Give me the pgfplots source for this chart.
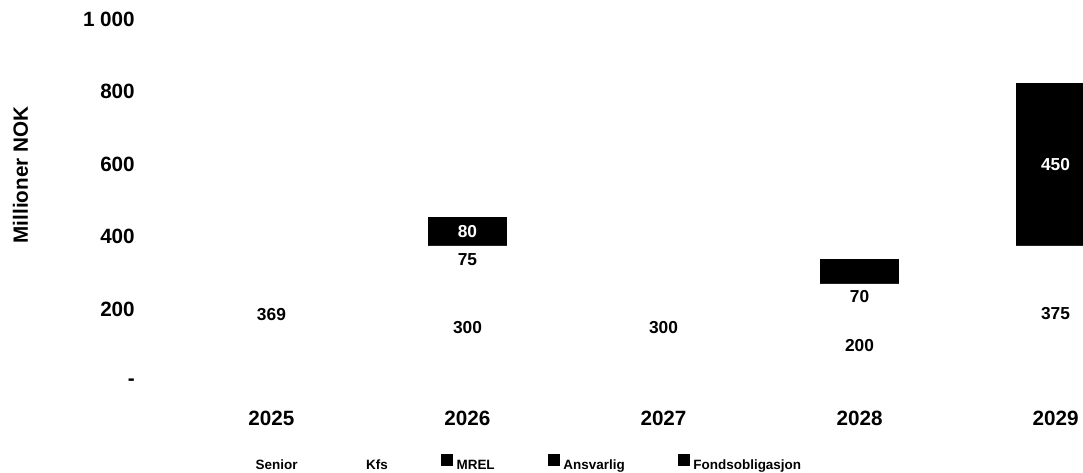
\documentclass[border=0pt]{standalone}
\usepackage{pgfplots}
\pgfplotsset{compat=1.18}
\usepackage{fontspec}
\setmainfont{Liberation Sans}

% shared geometry for the bar axis and the label overlay
\pgfplotsset{
  frame/.style={
    at={(101.25pt,67.5pt)}, anchor=south west,
    scale only axis, width=711pt, height=272.25pt,
    xmin=-0.696, xmax=4.14, ymin=0, ymax=1000,
  },
}

\begin{document}
\begin{tikzpicture}
\useasboundingbox (0,0) rectangle (812.25pt,354pt);
\begin{axis}[frame,
  ybar stacked, bar width=59.25pt,
  axis line style={draw=none}, major tick style={draw=none},
  xtick={0,1,2,3,4}, xticklabels={2025,2026,2027,2028,2029},
  ytick={0,200,400,600,800,1000}, yticklabels={-,200,400,600,800,1 000},
  tick label style={font=\bfseries\fontsize{15.5}{18}\selectfont, inner sep=0pt},
  xticklabel style={yshift=-21.75pt},
  ylabel={Millioner NOK},
  every axis y label/.style={at={(axis description cs:-0.1208,0.5702)}, rotate=90, anchor=center,
    font=\bfseries\fontsize{15.5}{18}\selectfont},
  legend columns=-1,
  legend style={at={(axis description cs:0.1108,-0.2231)}, anchor=west,
    draw=none, fill=none, inner sep=0pt,
    font=\bfseries\fontsize{10.1}{12}\selectfont,
    nodes={inner sep=0pt},
    /tikz/every odd column/.append style={column sep=2.5pt},
    /tikz/every even column/.append style={column sep=40pt}},
  legend image code/.code={\fill[#1] (0pt,-0.5pt) rectangle (9pt,8.5pt);},
]
\addplot[fill=white, draw=none] coordinates {(0,369) (1,300) (2,300) (3,200) (4,375)}; % Senior
\addplot[fill=white, draw=none] coordinates {(0,0) (1,75) (2,0) (3,70) (4,0)};        % Kfs
\addplot[fill=black, draw=none] coordinates {(0,0) (1,80) (2,0) (3,0) (4,0)};         % MREL
\addplot[fill=black, draw=none] coordinates {(0,0) (1,0) (2,0) (3,70) (4,0)};         % Ansvarlig
\addplot[fill=black, draw=none] coordinates {(0,0) (1,0) (2,0) (3,0) (4,450)};        % Fondsobligasjon
\legend{Senior, Kfs, MREL, Ansvarlig, Fondsobligasjon}
\end{axis}

% value labels, centred in each segment
\begin{axis}[frame, hide axis,
  nodes near coords, point meta=explicit symbolic,
  every node near coord/.append style={anchor=center, font=\bfseries\fontsize{13}{15}\selectfont},
]
\addplot[draw=none, mark=none] coordinates {
  (0,184.5) [369] (1,150) [300] (1,337.5) [75] (2,150) [300]
  (3,100) [200] (3,235) [70] (4,187.5) [375]};
\addplot[draw=none, mark=none, every node near coord/.append style={text=white}] coordinates {
  (1,415) [80] (4,600) [450]};
\end{axis}
\end{tikzpicture}
\end{document}
